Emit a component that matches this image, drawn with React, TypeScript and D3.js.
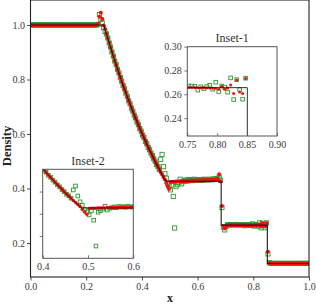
import { useEffect, useRef } from 'react';
import * as d3 from 'd3';

const WIDTH = 316;
const HEIGHT = 304;
const FONT = '"Liberation Serif", "DejaVu Serif", serif';

// cell centres of the 200-cell grid
const cellX = d3.range(200).map(i => 0.0025 + 0.005 * i);

// exact Riemann solution (polyline)
const exactX = [0, 0.2634, 0.27, 0.28, 0.29, 0.30, 0.31, 0.32, 0.33, 0.34, 0.35, 0.36, 0.37, 0.38, 0.39, 0.40,
  0.41, 0.42, 0.43, 0.44, 0.45, 0.46, 0.47, 0.48, 0.4859, 0.6846, 0.6846, 0.8504, 0.8504, 1.0];
const exactRho = [1, 1, 0.977, 0.943, 0.910, 0.877, 0.846, 0.816, 0.786, 0.758, 0.730, 0.703, 0.677, 0.651, 0.627, 0.603,
  0.580, 0.557, 0.536, 0.515, 0.494, 0.475, 0.455, 0.437, 0.4263, 0.4263, 0.2656, 0.2656, 0.125, 0.125];

// scheme A (red dots)
const redRho = [
  1, 1, 1, 1, 1, 1, 1, 1, 1, 1,
  1, 1, 1, 1, 1, 1, 1, 1, 1, 1,
  1, 1, 1, 1, 1, 1, 1, 1, 1, 1,
  1, 1, 1, 1, 1, 1, 1, 1, 1, 1,
  1, 1, 1, 1, 1, 1, 1, 1,
  1.005, 1.03, 1.045, 1.022, 0.998, 0.985,
  0.968, 0.951, 0.935, 0.918, 0.902, 0.885, 0.869, 0.854, 0.838, 0.823,
  0.808, 0.793, 0.779, 0.765, 0.751, 0.737, 0.723, 0.710, 0.696, 0.683,
  0.670, 0.658, 0.645, 0.633, 0.621, 0.609, 0.597, 0.586, 0.574, 0.563,
  0.552, 0.541, 0.531, 0.520, 0.510, 0.499, 0.489, 0.480, 0.470, 0.460,
  0.451, 0.442, 0.433, 0.420, 0.408, 0.398,
  0.424, 0.425, 0.425, 0.425, 0.426, 0.426, 0.426, 0.426, 0.427, 0.427,
  0.427, 0.427, 0.427, 0.428, 0.428, 0.428, 0.428, 0.428, 0.429, 0.429,
  0.429, 0.429, 0.429, 0.429, 0.430, 0.430, 0.430, 0.430, 0.430, 0.431,
  0.431, 0.431, 0.432, 0.433,
  0.435, 0.452, 0.426, 0.336, 0.262, 0.253, 0.262,
  0.266, 0.2665, 0.2663, 0.2662, 0.2661, 0.266, 0.266, 0.2659, 0.2659,
  0.2658, 0.2657, 0.2657, 0.2656, 0.2655, 0.2655, 0.2654, 0.2653, 0.2652, 0.2651,
  0.2643, 0.2668, 0.2643, 0.2654, 0.2679, 0.2606, 0.2721, 0.2620, 0.2606, 0.2732,
  0.168, 0.127,
  0.125, 0.125, 0.125, 0.125, 0.125, 0.125, 0.125, 0.125, 0.125, 0.125,
  0.125, 0.125, 0.125, 0.125, 0.125, 0.125, 0.125, 0.125, 0.125, 0.125,
  0.125, 0.125, 0.125, 0.125, 0.125, 0.125, 0.125, 0.125,
];

// scheme B (green open squares)
const greenRho = [
  1, 1, 1, 1, 1, 1, 1, 1, 1, 1,
  1, 1, 1, 1, 1, 1, 1, 1, 1, 1,
  1, 1, 1, 1, 1, 1, 1, 1, 1, 1,
  1, 1, 1, 1, 1, 1, 1, 1, 1, 1,
  1, 1, 1, 1, 1, 1, 1, 1,
  1.002, 1.038, 1.02, 1.008, 0.99, 0.976,
  0.967, 0.952, 0.934, 0.919, 0.901, 0.886, 0.868, 0.855, 0.837, 0.824,
  0.807, 0.794, 0.778, 0.766, 0.750, 0.738, 0.722, 0.711, 0.695, 0.684,
  0.669, 0.659, 0.644, 0.634, 0.620, 0.610, 0.596, 0.587, 0.573, 0.564,
  0.551, 0.542, 0.530, 0.521, 0.509, 0.500, 0.488, 0.481, 0.470,
  0.507, 0.525, 0.480, 0.454, 0.438, 0.420, 0.408, 0.395, 0.413, 0.371,
  0.255, 0.407, 0.414, 0.421, 0.434, 0.417, 0.425,
  0.428, 0.431, 0.427, 0.433, 0.430, 0.432, 0.429, 0.434, 0.431, 0.430,
  0.433, 0.431, 0.432, 0.430, 0.434, 0.432, 0.433, 0.431, 0.434, 0.433,
  0.432, 0.435, 0.434, 0.436,
  0.437, 0.442, 0.430, 0.330, 0.258, 0.248, 0.261,
  0.267, 0.266, 0.2675, 0.2665, 0.267, 0.2672, 0.2668, 0.267, 0.2665,
  0.267, 0.267, 0.2668, 0.2635, 0.2663, 0.2648, 0.2665, 0.2676, 0.2643, 0.2702,
  0.2623, 0.267, 0.266, 0.2618, 0.2738, 0.2556, 0.2723, 0.264, 0.2559, 0.2735,
  0.160, 0.128,
  0.125, 0.125, 0.125, 0.125, 0.125, 0.125, 0.125, 0.125, 0.125, 0.125,
  0.125, 0.125, 0.125, 0.125, 0.125, 0.125, 0.125, 0.125, 0.125, 0.125,
  0.125, 0.125, 0.125, 0.125, 0.125, 0.125, 0.125, 0.125,
];

const mainXTicks = [0, 0.2, 0.4, 0.6, 0.8, 1.0];
const mainYTicks = [0.2, 0.4, 0.6, 0.8, 1.0];
const inset1XTicks = [0.75, 0.8, 0.85, 0.9];
const inset1YTicks = [0.24, 0.26, 0.28, 0.30];
const inset2XTicks = [0.4, 0.5, 0.6];
const inset2YTicks = [0.3, 0.4, 0.5];

interface PanelOpts {
  id: string;
  x: d3.ScaleLinear<number, number>;
  y: d3.ScaleLinear<number, number>;
  xTicks: number[];
  yTicks: number[];
  xFormat: (d: number) => string;
  yFormat: ((d: number) => string) | null;
  xTickSize: number;
  xPad: number;
  yTickSize: number;
  yPad: number;
  redR: number;
  greenS: number;
  spine: string;
  inset: boolean;
}

function drawPanel(svg: d3.Selection<SVGSVGElement, unknown, null, undefined>, o: PanelOpts) {
  const [x0, x1] = o.x.range();
  const [y0, y1] = o.y.range(); // y0 bottom, y1 top
  const g = svg.append('g');

  if (o.inset) {
    g.append('rect')
      .attr('x', x0).attr('y', y1)
      .attr('width', x1 - x0).attr('height', y0 - y1)
      .attr('fill', '#fff');
  }

  svg.select('defs').append('clipPath').attr('id', `clip-${o.id}`)
    .append('rect')
    .attr('x', x0).attr('y', y1)
    .attr('width', x1 - x0).attr('height', y0 - y1);

  const plot = g.append('g').attr('clip-path', `url(#clip-${o.id})`);

  // green open squares
  plot.selectAll('.green')
    .data(cellX.map((cx, i) => ({ cx, v: greenRho[i] })))
    .enter()
    .append('rect')
    .attr('x', d => o.x(d.cx) - o.greenS / 2)
    .attr('y', d => o.y(d.v) - o.greenS / 2)
    .attr('width', o.greenS)
    .attr('height', o.greenS)
    .attr('fill', 'none')
    .attr('stroke', '#2e9a2e')
    .attr('stroke-width', 0.9);

  // red dots
  plot.selectAll('.red')
    .data(cellX.map((cx, i) => ({ cx, v: redRho[i] })))
    .enter()
    .append('circle')
    .attr('cx', d => o.x(d.cx))
    .attr('cy', d => o.y(d.v))
    .attr('r', o.redR)
    .attr('fill', '#f41010');

  // exact solution
  const line = d3.line<number>()
    .x((d, i) => o.x(exactX[i]))
    .y(d => o.y(d));
  plot.append('path')
    .attr('d', line(exactRho))
    .attr('fill', 'none')
    .attr('stroke', '#1a1a1a')
    .attr('stroke-width', o.inset ? 0.9 : 1.1);

  // axes
  const xAxis = d3.axisBottom(o.x).tickValues(o.xTicks).tickSize(o.xTickSize).tickPadding(o.xPad)
    .tickFormat(d => o.xFormat(d as number));
  const yAxis = d3.axisLeft(o.y).tickValues(o.yTicks).tickSize(o.yTickSize).tickPadding(o.yPad)
    .tickFormat(d => (o.yFormat ? o.yFormat(d as number) : ''));

  const gx = g.append('g').attr('transform', `translate(0, ${y0})`).call(xAxis);
  const gy = g.append('g').attr('transform', `translate(${x0}, 0)`).call(yAxis);
  [gx, gy].forEach(a => {
    a.select('.domain').remove();
    a.selectAll('.tick line').attr('stroke', o.spine).attr('stroke-width', 0.8);
    a.selectAll('text')
      .attr('fill', '#3a3a3a')
      .attr('font-size', '10px')
      .style('font-family', FONT);
  });

  // box
  g.append('rect')
    .attr('x', x0).attr('y', y1)
    .attr('width', x1 - x0).attr('height', y0 - y1)
    .attr('fill', 'none')
    .attr('stroke', o.spine)
    .attr('stroke-width', o.inset ? 1 : 1.1);
}

export default function App() {
  const svgRef = useRef<SVGSVGElement>(null);

  useEffect(() => {
    if (!svgRef.current) return;
    d3.select(svgRef.current).selectAll('*').remove();
    const svg = d3.select(svgRef.current);
    svg.append('defs');

    // main axes
    drawPanel(svg, {
      id: 'main',
      x: d3.scaleLinear().domain([0, 1]).range([30.5, 309]),
      y: d3.scaleLinear().domain([0.0752, 1.0917]).range([277, 0]),
      xTicks: mainXTicks, yTicks: mainYTicks,
      xFormat: d3.format('.1f'), yFormat: d3.format('.1f'),
      xTickSize: 3.5, xPad: 2.5, yTickSize: 3.5, yPad: 2,
      redR: 2, greenS: 4.2, spine: '#222', inset: false,
    });

    // inset 1: shock region
    drawPanel(svg, {
      id: 'in1',
      x: d3.scaleLinear().domain([0.75, 0.9]).range([187.3, 277]),
      y: d3.scaleLinear().domain([0.225, 0.30]).range([136, 46.7]),
      xTicks: inset1XTicks, yTicks: inset1YTicks,
      xFormat: d3.format('.2f'), yFormat: d3.format('.2f'),
      xTickSize: -3, xPad: 5, yTickSize: 3, yPad: 2.5,
      redR: 1.5, greenS: 3.6, spine: '#555', inset: true,
    });

    // inset 2: rarefaction tail
    drawPanel(svg, {
      id: 'in2',
      x: d3.scaleLinear().domain([0.4, 0.6]).range([42.7, 133.3]),
      y: d3.scaleLinear().domain([0.2, 0.6]).range([258.3, 169.3]),
      xTicks: inset2XTicks, yTicks: inset2YTicks,
      xFormat: d3.format('.1f'), yFormat: null,
      xTickSize: -3, xPad: 5, yTickSize: 3, yPad: 2,
      redR: 1.8, greenS: 3.6, spine: '#555', inset: true,
    });

    svg.append('text')
      .attr('x', 232.2).attr('y', 42)
      .attr('text-anchor', 'middle')
      .attr('font-size', '12px')
      .attr('fill', '#333')
      .style('font-family', FONT)
      .text('Inset-1');

    svg.append('text')
      .attr('x', 88).attr('y', 165)
      .attr('text-anchor', 'middle')
      .attr('font-size', '12px')
      .attr('fill', '#333')
      .style('font-family', FONT)
      .text('Inset-2');

    svg.append('text')
      .attr('transform', 'translate(11, 146) rotate(-90)')
      .attr('text-anchor', 'middle')
      .attr('font-size', '12.5px')
      .attr('font-weight', '700')
      .attr('fill', '#222')
      .style('font-family', FONT)
      .text('Density');

    svg.append('text')
      .attr('x', 170).attr('y', 302)
      .attr('text-anchor', 'middle')
      .attr('font-size', '12px')
      .attr('font-weight', '700')
      .attr('fill', '#222')
      .style('font-family', FONT)
      .text('x');
  }, []);

  return (
    <svg
      ref={svgRef}
      width={WIDTH}
      height={HEIGHT}
      style={{ position: 'absolute', left: 0, top: 0, background: '#fff' }}
    />
  );
}
